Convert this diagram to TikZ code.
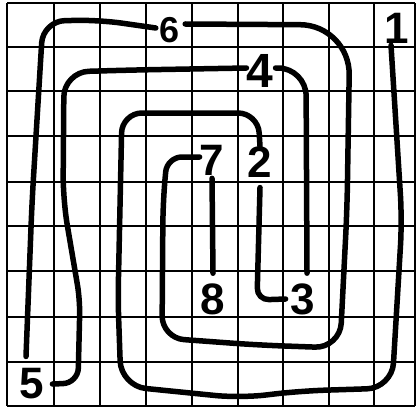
\documentclass[tikz,border=0pt]{standalone}
\usepackage{fontspec}
\setmainfont{Liberation Sans}
\begin{document}
\begin{tikzpicture}[x=1pt,y=-1pt,
  gridline/.style={line width=1.8pt,black},
  spiral/.style={line width=5.5pt,black,line cap=round,line join=round},
  lab/.style={font=\fontsize{44}{44}\selectfont\bfseries,inner sep=0pt}]
\useasboundingbox (0,0) rectangle (417,412);
\fill[white] (0,0) rectangle (417,412);
\foreach \gx in {7,54,100,146,192,238,283,329,374,415}
  \draw[gridline] (\gx,3) -- (\gx,406);
\foreach \gy in {3,47,91,136,182,226,271,317,362,406}
  \draw[gridline] (7,\gy) -- (415,\gy);
% labels
\node[lab] (n1) at (397,28) {1};
\node[lab] (n2) at (260,162) {2};
\node[lab] (n3) at (303,299) {3};
\node[lab,font=\fontsize{48}{48}\selectfont\bfseries] (n4) at (260,71) {4};
\node[lab] (n5) at (32,384) {5};
\node[lab,font=\fontsize{36}{36}\selectfont\bfseries] (n6) at (170,30) {6};
\node[lab] (n7) at (212,160) {7};
\node[lab] (n8) at (213,299) {8};
% spiral connectors
\draw[spiral] ([xshift=-6pt,yshift=-2pt]n1.south) [rounded corners=25pt]
  -- (402,220) -- (392,388) -- (300,391) -- (240,398) -- (121,386)
  [rounded corners=20pt] -- (118,300) -- (122,113) -- (258,113) -- (n2.north);
\draw[spiral] ([yshift=-10pt]n2.south) [rounded corners=12pt]
  -- (257,300) -- ([xshift=-5pt]n3.west);
\draw[spiral] ([xshift=4pt,yshift=10pt]n3.north) [rounded corners=28pt]
  -- (306,68) -- ([xshift=2pt,yshift=3pt]n4.east);
\draw[spiral] ([yshift=3pt]n4.west) [rounded corners=25pt]
  -- (133,70) -- (64,72) -- (63,200) [rounded corners=15pt] -- (80,300)
  -- (78,383) -- ([xshift=8pt]n5.east);
\draw[spiral] ([xshift=-6pt,yshift=12pt]n5.north) [rounded corners=22pt]
  -- (32,202) -- (43,21) -- (100,20) -- ([xshift=-4pt,yshift=2pt]n6.west);
\draw[spiral] ([xshift=5pt,yshift=6pt]n6.east) [rounded corners=50pt]
  -- (350,25) [rounded corners=25pt] -- (347,210) -- (340,348)
  -- (257,345) [rounded corners=22pt] -- (162,338) -- (163,202)
  [rounded corners=15pt] -- (167,157) -- ([yshift=3pt]n7.west);
\draw[spiral] ([yshift=-3pt]n7.south) -- ([yshift=10pt]n8.north);
\end{tikzpicture}
\end{document}
